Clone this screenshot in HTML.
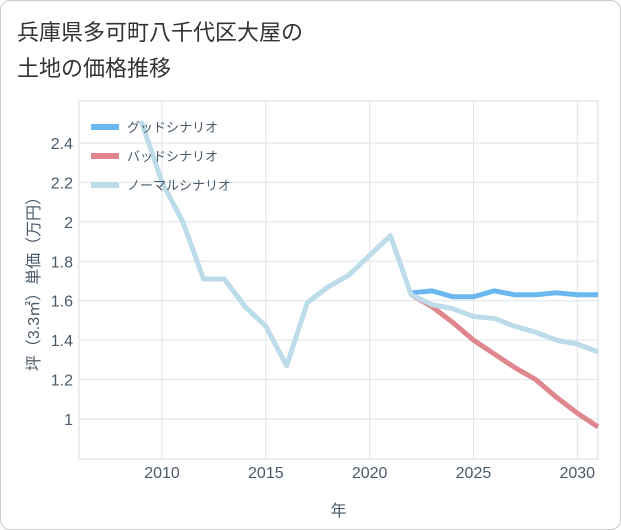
<!DOCTYPE html>
<html><head><meta charset="utf-8"><style>
body{margin:0;background:#fff;}
.card{position:absolute;left:0;top:0;width:619px;height:528px;border:1px solid #ccc;border-radius:10px;background:#fff;overflow:hidden;}
.title{position:absolute;left:16px;top:14px;font:22px "Liberation Sans","Noto Sans CJK JP",sans-serif;color:#333;line-height:36px;}
svg text{font-family:"Liberation Sans","Noto Sans CJK JP",sans-serif;}
</style></head><body>
<div class="card">
<div class="title">兵庫県多可町八千代区大屋の<br>土地の価格推移</div>
<svg id="chart" width="621" height="530" style="position:absolute;left:0;top:0"></svg>
</div>
<script>
const years=[2009,2010,2011,2012,2013,2014,2015,2016,2017,2018,2019,2020,2021,2022,2023,2024,2025,2026,2027,2028,2029,2030,2031];
const normalVals=[2.51,2.2,2.0,1.71,1.71,1.57,1.47,1.27,1.59,1.67,1.73,1.83,1.93,1.63,1.58,1.56,1.52,1.51,1.47,1.44,1.40,1.38,1.34];
const futureYears=[2022,2023,2024,2025,2026,2027,2028,2029,2030,2031];
const goodVals=[1.64,1.65,1.62,1.62,1.65,1.63,1.63,1.64,1.63,1.63];
const badVals=[1.63,1.57,1.49,1.40,1.33,1.26,1.20,1.11,1.03,0.96];
const xTicks=[2010,2015,2020,2025,2030];
const yTicks=[1,1.2,1.4,1.6,1.8,2,2.2,2.4];
const L=78,R=597,T=100,B=458,x0=2006,x1=2031,y0=0.797,y1=2.613;
const X=v=>L+(v-x0)/(x1-x0)*(R-L);
const Y=v=>B-(v-y0)/(y1-y0)*(B-T);
const svg=document.getElementById('chart');
const NS='http://www.w3.org/2000/svg';
function mk(t,a){const e=document.createElementNS(NS,t);for(const k in a)e.setAttribute(k,a[k]);svg.appendChild(e);return e;}
const bg=mk('rect',{x:L,y:T,width:R-L,height:B-T,fill:'none',stroke:'#d5dbe3'});


xTicks.forEach(t=>{
 const g=mk('line',{x1:X(t),x2:X(t),y1:T,y2:B,stroke:'#dde3ea'});
 
 
 const l=mk('text',{x:X(t),y:B+19,'text-anchor':'middle','font-size':16,fill:'#4a5a6a'});l.textContent=t;
 
 
});
yTicks.forEach(t=>{
 const g=mk('line',{x1:L,x2:R,y1:Y(t),y2:Y(t),stroke:'#dde3ea'});
 
 
 const l=mk('text',{x:L-6,y:Y(t)+6,'text-anchor':'end','font-size':16,fill:'#4a5a6a'});l.textContent=t;
 
 
});
const xt=mk('text',{x:(L+R)/2,y:515,'text-anchor':'middle','font-size':16,fill:'#4a5a6a'});xt.textContent='年';


const yt=mk('text',{x:0,y:0,'text-anchor':'middle','font-size':16,fill:'#4a5a6a',transform:`translate(38,${(T+B)/2}) rotate(-90)`});yt.textContent='坪（3.3㎡）単価（万円）';


function line(xs,vs,c,n){
 const p=mk('polyline',{points:xs.map((y,i)=>X(y)+','+Y(vs[i])).join(' '),fill:'none',stroke:c,'stroke-width':5,'stroke-linejoin':'round'});
 
 
}
line(futureYears,badVals,'#e0868e','bad-scenario-line');
line(futureYears,goodVals,'#6bb8f0','good-scenario-line');
line(years,normalVals,'#bcdcea','normal-scenario-line');
const leg=[['グッドシナリオ','#6bb8f0'],['バッドシナリオ','#e0868e'],['ノーマルシナリオ','#bcdcea']];
leg.forEach((d,i)=>{
 const y=126+i*29;
 const s=mk('line',{x1:90,x2:118,y1:y,y2:y,stroke:d[1],'stroke-width':6});
 
 
 const t=mk('text',{x:126,y:y+5,'font-size':13,fill:'#4a5a6a'});t.textContent=d[0];
 
 
});
</script>
</body></html>
